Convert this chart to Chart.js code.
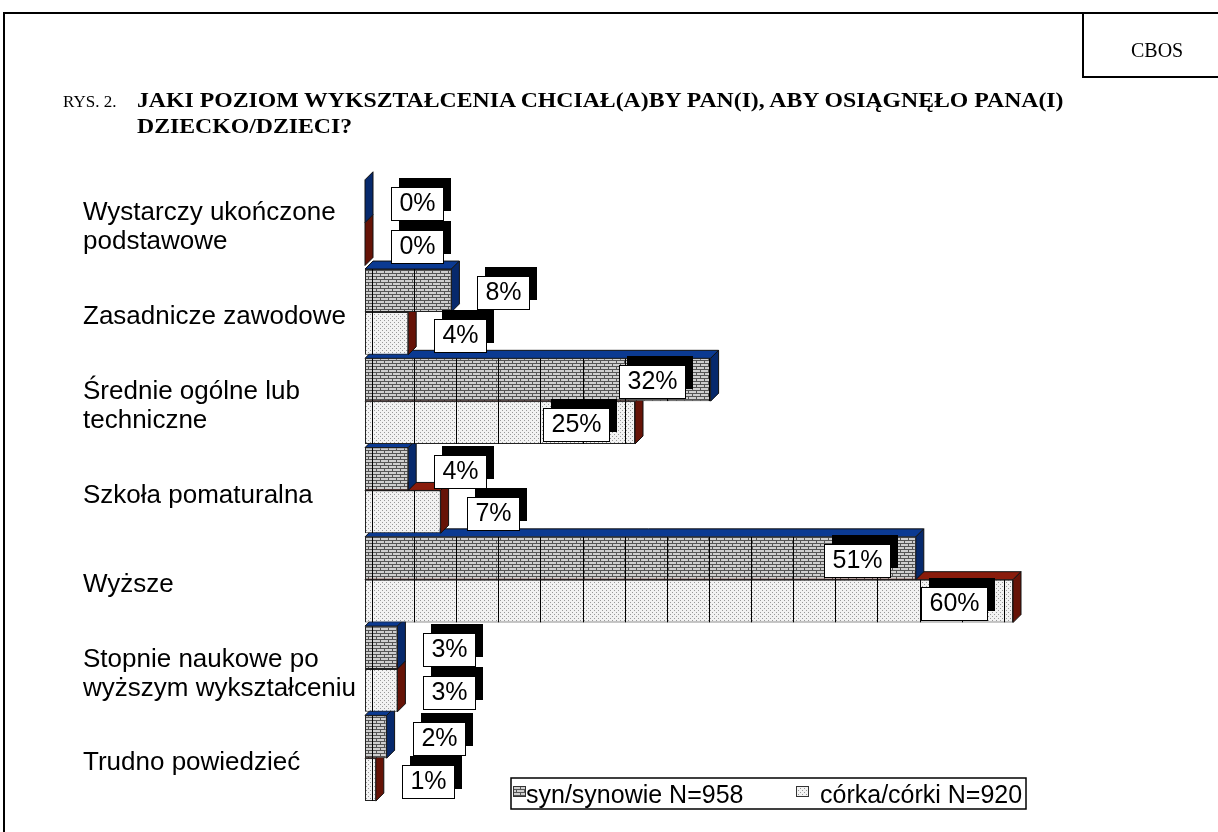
<!DOCTYPE html>
<html>
<head>
<meta charset="utf-8">
<script src="https://cdn.jsdelivr.net/npm/chart.js@4.4.1/dist/chart.umd.min.js"></script>
<style>
  body { margin: 0; background: #fff; }
  #wrap { position: relative; width: 1218px; height: 832px; overflow: hidden; }
  #c { position: absolute; left: 0; top: 0; }
  .line { position: absolute; background: #000; }
  .txt { position: absolute; white-space: nowrap; color: #000; font-family: "Liberation Serif", "Times New Roman", serif; }
</style>
</head>
<body>
<div id="wrap">
  <canvas id="c" width="1218" height="832"></canvas>
  <div class="line" style="left:3px;top:12px;width:1215px;height:2px"></div>
  <div class="line" style="left:3px;top:12px;width:2px;height:820px"></div>
  <div class="line" style="left:1082px;top:12px;width:2px;height:66px"></div>
  <div class="line" style="left:1082px;top:76px;width:136px;height:2px"></div>
  <div class="txt" style="left:1131px;top:39px;font-size:20px">CBOS</div>
  <div class="txt" style="left:63px;top:92px;font-size:17px">RYS. 2.</div>
  <div class="txt" id="t1" style="left:137px;top:89px;font-size:20px;font-weight:bold;transform-origin:0 0">JAKI POZIOM WYKSZTAŁCENIA CHCIAŁ(A)BY PAN(I), ABY OSIĄGNĘŁO PANA(I)</div>
  <div class="txt" id="t2" style="left:137px;top:115px;font-size:20px;font-weight:bold;transform-origin:0 0">DZIECKO/DZIECI?</div>
</div>
<script>
// dane
var kategorie = [
  ['Wystarczy ukończone', 'podstawowe'],
  'Zasadnicze zawodowe',
  ['Średnie ogólne lub', 'techniczne'],
  'Szkoła pomaturalna',
  'Wyższe',
  ['Stopnie naukowe po', 'wyższym wykształceniu'],
  'Trudno powiedzieć'
];
var synowie = [0, 8, 32, 4, 51, 3, 2];
var corki = [0, 4, 25, 7, 60, 3, 1];
var serie = ['syn/synowie N=958', 'córka/córki N=920'];

// dopasowanie szerokosci tytulu
var t1 = document.getElementById('t1');
var sc = 926 / t1.offsetWidth;
t1.style.transform = 'scaleX(' + sc + ')';
document.getElementById('t2').style.transform = 'scaleX(' + sc + ')';

var ctx = document.getElementById('c').getContext('2d');

function cegla() {
  var c = document.createElement('canvas');
  c.width = 8; c.height = 6;
  var g = c.getContext('2d');
  g.fillStyle = '#cfcfcf'; g.fillRect(0, 0, 8, 6);
  g.fillStyle = '#555';
  g.fillRect(0, 0, 8, 1); g.fillRect(0, 3, 8, 1);
  g.fillRect(0, 0, 1, 3); g.fillRect(4, 3, 1, 3);
  return ctx.createPattern(c, 'repeat');
}
function kropki() {
  var c = document.createElement('canvas');
  c.width = 4; c.height = 4;
  var g = c.getContext('2d');
  g.fillStyle = '#f2f2f2'; g.fillRect(0, 0, 4, 4);
  g.fillStyle = '#999';
  g.fillRect(0, 0, 1, 1); g.fillRect(2, 2, 1, 1);
  return ctx.createPattern(c, 'repeat');
}
var wzory = [cegla(), kropki()];
var sciany = [
  { gora: '#0b3a92', bok: '#07296c' },
  { gora: '#8a1c0c', bok: '#661307' }
];
var glab = 8;
var FONT = '"Liberation Sans", Arial, sans-serif';

function poly(c, pts, fill) {
  c.beginPath();
  c.moveTo(pts[0][0], pts[0][1]);
  for (var i = 1; i < pts.length; i++) c.lineTo(pts[i][0], pts[i][1]);
  c.closePath();
  c.fillStyle = fill; c.fill();
  c.lineWidth = 1; c.strokeStyle = '#111'; c.stroke();
}

var trojwymiar = {
  id: 'trojwymiar',
  beforeDatasetsDraw(chart) {
    var c = chart.ctx;
    c.save();
    // od dolu do gory
    for (var i = kategorie.length - 1; i >= 0; i--) {
      for (var d = 1; d >= 0; d--) {
        var b = chart.getDatasetMeta(d).data[i];
        var x0 = b.base, x1 = b.x, top = b.y - b.height / 2, bot = b.y + b.height / 2;
        if (x1 > x0) poly(c, [[x0, top], [x0 + glab, top - glab], [x1 + glab, top - glab], [x1, top]], sciany[d].gora);
        poly(c, [[x1, top], [x1 + glab, top - glab], [x1 + glab, bot - glab], [x1, bot]], sciany[d].bok);
      }
    }
    c.restore();
  },
  afterDatasetsDraw(chart) {
    var c = chart.ctx;
    var xs = chart.scales.x;
    c.save();
    // linie siatki widoczne tylko w slupkach
    for (var d = 0; d < 2; d++) {
      chart.getDatasetMeta(d).data.forEach(function (b) {
        var x0 = b.base, x1 = b.x, top = b.y - b.height / 2;
        if (x1 - x0 < 1) return;
        c.save();
        c.beginPath(); c.rect(x0, top, x1 - x0, b.height); c.clip();
        c.strokeStyle = '#000'; c.lineWidth = 1;
        for (var v = 0; v <= xs.max; v += 4) {
          var gx = Math.round(xs.getPixelForValue(v * 0.975) + 7) + 0.5;
          c.beginPath(); c.moveTo(gx, top); c.lineTo(gx, top + b.height); c.stroke();
        }
        c.restore();
      });
    }
    // etykiety
    c.font = '25px ' + FONT;
    c.textBaseline = 'middle';
    c.textAlign = 'center';
    for (var i = 0; i < kategorie.length; i++) {
      for (var d = 0; d < 2; d++) {
        var val = chart.data.datasets[d].data[i];
        var b = chart.getDatasetMeta(d).data[i];
        var txt = val + '%';
        var bw = Math.round(c.measureText(txt).width + 16), bh = 33;
        var bx = val >= 20 ? b.x - 26 - bw : b.x + 26;
        var by = Math.round(b.y + 2 - bh / 2);
        bx = Math.round(bx);
        c.fillStyle = '#000';
        c.fillRect(bx + 8, by - 9, bw, bh);
        c.fillStyle = '#fff';
        c.fillRect(bx, by, bw, bh);
        c.strokeStyle = '#000'; c.lineWidth = 1;
        c.strokeRect(bx + 0.5, by + 0.5, bw, bh);
        c.fillStyle = '#000';
        c.fillText(txt, bx + bw / 2 + 0.5, by + bh / 2 + 1);
      }
    }
    c.restore();
  },
  afterDraw(chart) {
    // legenda
    var c = chart.ctx;
    c.save();
    c.lineWidth = 1.5; c.strokeStyle = '#000';
    c.fillStyle = '#fff';
    c.fillRect(511, 778, 515, 31);
    c.strokeRect(511, 778, 515, 31);
    c.font = '25px ' + FONT;
    c.textBaseline = 'alphabetic'; c.textAlign = 'left';
    var px = [513, 796], tx = [526, 820];
    for (var d = 0; d < 2; d++) {
      c.fillStyle = wzory[d];
      c.fillRect(px[d], 786, 13, 11);
      c.lineWidth = 1; c.strokeStyle = '#333';
      c.strokeRect(px[d] + 0.5, 786.5, 12, 10);
      c.fillStyle = '#000';
      c.fillText(serie[d], tx[d], 803);
    }
    c.restore();
  }
};

new Chart(ctx, {
  type: 'bar',
  data: {
    labels: kategorie,
    datasets: [
      { label: serie[0], data: synowie, backgroundColor: wzory[0], borderColor: '#222', borderWidth: 1, borderSkipped: false },
      { label: serie[1], data: corki, backgroundColor: wzory[1], borderColor: '#222', borderWidth: 1, borderSkipped: false }
    ]
  },
  options: {
    responsive: false,
    animation: false,
    indexAxis: 'y',
    datasets: { bar: { categoryPercentage: 0.96, barPercentage: 1 } },
    layout: { padding: { left: 83, top: 178, right: 97, bottom: 19 } },
    plugins: { legend: { display: false }, tooltip: { enabled: false } },
    scales: {
      x: { display: false, min: 0, max: 70 },
      y: {
        grid: { display: false },
        border: { display: false },
        ticks: { color: '#000', crossAlign: 'far', padding: 0, labelOffset: 5, font: { family: FONT, size: 26, lineHeight: 1.12 } },
        afterFit: function (s) { s.width = 282; }
      }
    }
  },
  plugins: [trojwymiar]
});
</script>
</body>
</html>
